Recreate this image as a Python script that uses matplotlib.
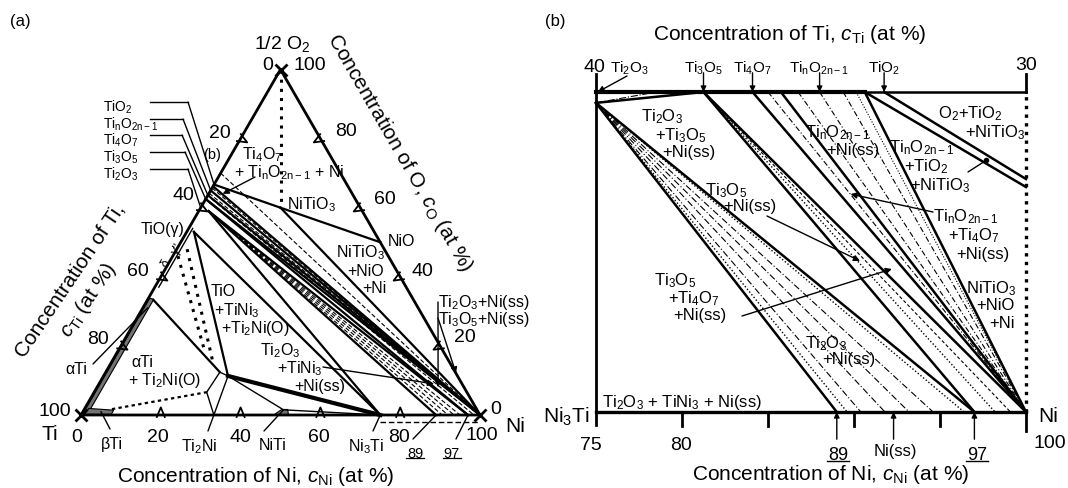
# -*- coding: utf-8 -*-
# Ti-Ni-O isothermal section (a) and the Ni-rich corner (b)

import numpy as np
import matplotlib.pyplot as plt
import matplotlib.transforms as mtransforms
from matplotlib.lines import Line2D

plt.rcParams['font.family'] = ['Liberation Sans', 'DejaVu Sans']
plt.rcParams['mathtext.fontset'] = 'custom'
plt.rcParams['mathtext.rm'] = 'Liberation Sans'
plt.rcParams['mathtext.it'] = 'Liberation Sans:italic'
plt.rcParams['mathtext.default'] = 'regular'

W, H = 1068, 489
S3 = np.sqrt(3) / 2

# ---------------- data (a): compositions as (c_Ni, c_O), at %
TI = (0, 0)
NI = (100, 0)
OX = (0, 100)
TI2O3 = (0, 60)
TI2O3P = (2.5, 59)
TI3O5 = (0, 62.5)
TI4O7 = (0, 63.6)
TINO = (0, 65)
TIO2E = (0, 66.2)
TIO2 = (0, 66.7)
B30 = (0, 70)
TIO = (1.8, 53)
NITIO3 = (20, 60)
NIO = (50, 50)
TI2NI = (33.3, 0)
NI3TI = (75, 0)
NI89 = (89, 0)
NI97 = (97, 0)
T2N_A = (28.2, 6.6)
T2N_B = (28.6, 12.4)
T2N_C = (31.2, 11.3)
NITI_TOP = (50, 1.5)
ALPHA_TOP = (1.5, 33.3)
BETA_END = (6.9, 1.7)

ALPHA_TI = [(0.3, 0.8), (0.3, 33.8), (1.5, 33.5), (1.5, 1.2)]
BETA_TI = [(0.8, 0.2), (7.5, 0.2), (7.5, 1.4), (1.0, 1.9)]
NITI = [(48.3, 0), (52, 0), (51, 1.6), (49.5, 1.6)]

SOLID_A = [(TI2O3P, NI3TI), (TI2O3P, NI89), (TI2O3P, NI97), (TI3O5, NI97),
           (TI3O5, NI), (TI4O7, NI), (TINO, NI), (TIO2E, NI),
           (TIO2, NITIO3), (NITIO3, NI), (NITIO3, NIO),
           (TIO, NI3TI), (TIO, T2N_C), (T2N_C, NI3TI), (ALPHA_TOP, T2N_B)]
THIN_A = [(TI2NI, T2N_A), (T2N_A, T2N_B), (T2N_B, T2N_C), (T2N_C, TI2NI),
          (T2N_C, NITI_TOP), (NITI_TOP, NI3TI), ((1.0, 54), (1.0, 37))]
DASH_A = [(TI2O3P, (90.5, 0)), (TI2O3P, (92, 0)), (TI2O3P, (93.5, 0)), (TI2O3P, (95, 0)),
          ((0, 64.2), NI), ((0, 65.7), NI), (B30, NI), ((1.5, 62.5), (98.5, 0))]
DOT_A = [(OX, NITIO3), ((2.6, 48), (25.4, 15.3)), ((1.3, 46), (21, 19.5))]
DOTTHIN_A = [(BETA_END, T2N_A)]
TICKS = [20, 40, 60, 80]

# ---------------- data (b): x = c_Ni on the lower edge, top edge is c_Ti 40..30
P_B = (75, 0.966)
TOP_TI = {'Ti3O5': 37.5, 'Ti4O7': 36.36, 'Ti5O9': 35.7, 'TinO': 34.8, 'TiO2E': 33.75, 'TiO2': 33.3}
R1, R2 = 0.703, 0.728
NI_BOTTOM = [89, 92.3, 97]
DASHDOT_P = [90.4, 91.8, 93.2, 94.6]
DOT_P = [89.6, 96.4]
DASHDOT_TOP = [36.0, 35.3, 34.8, 34.25]


def top(cti):
    return (75 + (40 - cti) * 2.5, 1.0)


def tern(c):
    ni, o = c
    return ni + o / 2, o * S3


fig = plt.figure(figsize=(W / 100, H / 100), dpi=100)
fig.patch.set_facecolor('white')
PX = mtransforms.Affine2D().scale(1 / W, -1 / H).translate(0, 1) + fig.transFigure


def ftext(x, y, s, size=12, ha='center', va='center_baseline', **kw):
    fig.text(x, y, s, transform=PX, fontsize=size, ha=ha, va=va, **kw)


def fline(xs, ys, **kw):
    fig.add_artist(Line2D(xs, ys, transform=PX, color='k', **kw))


def seg(ax, a, b, **kw):
    (x1, y1), (x2, y2) = tern(a), tern(b)
    ax.plot([x1, x2], [y1, y2], color='k', clip_on=False, **kw)


def arrow(ax, xy, xytext, head=True, lw=1.0):
    ax.annotate('', xy=xy, xycoords='data', xytext=xytext, textcoords=PX,
                arrowprops=dict(arrowstyle='-|>' if head else '-', lw=lw, color='k',
                                mutation_scale=9, shrinkA=0, shrinkB=0))


def chevron(ax, c, e, n, half=1.0, h=1.9, below=0.5):
    p, e, n = np.array(tern(c)), np.array(e), np.array(n)
    pts = np.array([p - half * e - below * n, p + h * n, p + half * e - below * n])
    ax.plot(pts[:, 0], pts[:, 1], color='k', lw=1.3, clip_on=False)


#########################################
# (a) ternary
ax = fig.add_axes([81 / W, (H - 416) / H, 399 / W, 345.5 / H])
ax.set_xlim(0, 100)
ax.set_ylim(0, 100 * S3)
ax.axis('off')

for poly in (ALPHA_TI, BETA_TI, NITI):
    xy = np.array([tern(c) for c in poly])
    ax.fill(xy[:, 0], xy[:, 1], fc='0.45', ec='k', lw=0.8, clip_on=False)

for a, b in SOLID_A:
    seg(ax, a, b, lw=1.6)
seg(ax, T2N_C, NI3TI, lw=3.0)
for a, b in THIN_A:
    seg(ax, a, b, lw=1.0)
for a, b in DASH_A:
    seg(ax, a, b, lw=0.8, ls=(0, (4, 2)))
for a, b in DOT_A:
    seg(ax, a, b, lw=2.2, ls=(0, (1, 2)))
for a, b in DOTTHIN_A:
    seg(ax, a, b, lw=1.6, ls=(0, (1.5, 1.5)))

tri = np.array([tern(c) for c in (TI, NI, OX, TI)])
ax.plot(tri[:, 0], tri[:, 1], color='k', lw=2, clip_on=False)
for c in (TI, NI, OX):
    ax.plot(*tern(c), marker='x', ms=9, mew=2, color='k', clip_on=False)

for v in TICKS:
    chevron(ax, (v, 0), (1, 0), (0, 1))
    chevron(ax, (0, 100 - v), (0.5, S3), (S3, -0.5))
    chevron(ax, (100 - v, v), (-0.5, S3), (-S3, -0.5))

# dashed outline of the region shown in (b), just under the Ni-Ti edge
off = ax.transData + mtransforms.ScaledTranslation(0, -0.07, fig.dpi_scale_trans)
ax.plot([tern(NI3TI)[0], tern(NI)[0]], [0, 0], transform=off, color='k', lw=1, ls=(0, (4, 2)), clip_on=False)

# numbers
for x, y, s in [(77, 437, '0'), (158, 437, '20'), (240, 437, '40'), (319, 437, '60'), (399, 437, '80'),
                (482, 435, '100'), (220, 133, '20'), (183, 196, '40'), (138, 272, '60'), (98, 340, '80'),
                (55, 412, '100'), (346, 131, '80'), (385, 200, '60'), (422, 272, '40'), (465, 337, '20'),
                (268, 65, '0'), (310, 65, '100'), (496, 410, '0')]:
    ftext(x, y, s, 14, va='center')
ftext(282, 42, r'1/2 O$_2$', 14)
ftext(50, 432, 'Ti', 15)
ftext(515, 424, 'Ni', 15)
ftext(20, 20, '(a)', 12)
ftext(256, 476, r'Concentration of Ni, $\mathit{c}_{Ni}$ (at %)', 15, va='center')
ftext(70, 280, 'Concentration of Ti,', 15, rotation=56, va='center')
ftext(88, 300, r'$\mathit{c}_{Ti}$ (at %)', 15, rotation=56, va='center')
ftext(400, 153, r'Concentration of O, $\mathit{c}_{O}$ (at %)', 15, rotation=-60, va='center')

TINO_S = r'Ti$_n$O$_{2n-1}$'
for x, y, s in [(262, 152, r'Ti$_4$O$_7$'), (289, 170, r'+ Ti$_n$O$_{2n-1}$ + Ni'),
                (311, 202, r'NiTiO$_3$'), (401, 240, 'NiO'),
                (360, 250, r'NiTiO$_3$'), (366, 270, '+NiO'), (374, 287, '+Ni'),
                (484, 300, r'Ti$_2$O$_3$+Ni(ss)'), (484, 317, r'Ti$_3$O$_5$+Ni(ss)'),
                (223, 290, 'TiO'), (237, 308, r'+TiNi$_3$'), (255, 326, r'+Ti$_2$Ni(O)'),
                (280, 348, r'Ti$_2$O$_3$'), (300, 366, r'+TiNi$_3$'), (320, 385, '+Ni(ss)'),
                (142, 361, 'αTi'), (165, 378, r'+ Ti$_2$Ni(O)'),
                (76, 368, 'αTi'), (112, 443, 'βTi'), (199, 444, r'Ti$_2$Ni'), (273, 444, 'NiTi'),
                (366, 444, r'Ni$_3$Ti'), (163, 228, 'TiO(γ)')]:
    ftext(x, y, s, 11.5)
ftext(178, 246, "γ''", 9, rotation=60)
ftext(166, 262, 'δ', 9, rotation=60)
ftext(212, 153, '(b)', 10.5)
for x, s in ((415, '89'), (452, '97')):
    ftext(x, 452, s, 10.5)
    fline([x - 9, x + 9], [459, 459], lw=0.9)

# leader lines of the oxide labels
for c, y, x1, s in [(TIO2, 105, 188, r'TiO$_2$'), (TINO, 122, 183, TINO_S), (TI4O7, 138, 182, r'Ti$_4$O$_7$'),
                    (TI3O5, 155, 185, r'Ti$_3$O$_5$'), (TI2O3, 172, 188, r'Ti$_2$O$_3$')]:
    ftext(103, y, s, 10, ha='left')
    fline([150, x1], [y - 2, y - 2], lw=1)
    arrow(ax, tern(c), (x1, y - 2), head=False)

arrow(ax, tern((3.5, 64)), (255, 178))
arrow(ax, tern((85.5, 8)), (438, 303))
arrow(ax, tern((88, 12)), (438, 319))
arrow(ax, tern((84, 9)), (323, 368))
arrow(ax, tern((1.2, 31)), (93, 365), head=False)
arrow(ax, tern((4.5, 1.0)), (110, 430), head=False)
arrow(ax, tern(TI2NI), (208, 432), head=False)
arrow(ax, tern(NITI_TOP), (264, 432), head=False)
arrow(ax, tern(NI3TI), (373, 432), head=False)
arrow(ax, tern(NI89), (413, 440), head=False)
arrow(ax, tern(NI97), (456, 440), head=False)

#########################################
# (b) Ni-rich corner
bx = fig.add_axes([596 / W, (H - 413) / H, 430 / W, 320 / H])
bx.set_xlim(75, 100)
bx.set_ylim(0, 1)
bx.axis('off')


def bl(a, b, **kw):
    bx.plot([a[0], b[0]], [a[1], b[1]], color='k', clip_on=False, **kw)


xe = top(TOP_TI['TiO2E'])
bl((75, -0.04), (75, 1.056), lw=2)
bl((75, 0), (100, 0), lw=2.4)
bl((75, 1), xe, lw=3)
bl(xe, (100, 1), lw=1.8)
bl((100, 1), (100, 1.056), lw=2)
bl((100, 0), (100, -0.06), lw=2)
bl((100, 0), (100, 1), lw=2.4, ls=(0, (1, 1.6)))
for t in (80, 85, 90, 95):
    bl((t, 0), (t, -0.045), lw=2)

for a, b in [(P_B, top(TOP_TI['Ti3O5'])), (P_B, (89, 0)), (P_B, (97, 0)),
             (top(TOP_TI['Ti3O5']), (97, 0)), (top(TOP_TI['Ti3O5']), (100, 0)),
             (top(TOP_TI['Ti4O7']), (100, 0)), (top(TOP_TI['Ti5O9']), (100, 0)),
             (top(TOP_TI['TiO2E']), (100, 0)), (top(TOP_TI['TiO2E']), (100, R1)),
             (top(TOP_TI['TiO2']), (100, R2))]:
    bl(a, b, lw=1.8)

bl(P_B, top(38.6), lw=0.8, ls='-.')
for n in DASHDOT_P:
    bl(P_B, (n, 0), lw=0.8, ls=(0, (6, 2, 1, 2)))
for n in DOT_P:
    bl(P_B, (n, 0), lw=1.0, ls=(0, (1, 1.5)))
bl(top(TOP_TI['Ti3O5']), (98.2, 0), lw=1.0, ls=(0, (1, 1.5)))
bl(top(TOP_TI['Ti3O5']), (99.1, 0), lw=0.8, ls=(0, (3, 2)))
for t in DASHDOT_TOP:
    bl(top(t), (100, 0), lw=0.8, ls=(0, (5, 2, 1, 2)))
bl(top(33.95), (100, 0), lw=0.8, ls=(0, (1, 1.5)))

# top arrows and labels
for key, s in (('Ti3O5', r'Ti$_3$O$_5$'), ('Ti4O7', r'Ti$_4$O$_7$'), ('TinO', TINO_S), ('TiO2', r'TiO$_2$')):
    x = top(TOP_TI[key])[0]
    bx.annotate('', xy=(x, 1), xytext=(x, 1.06),
                arrowprops=dict(arrowstyle='-|>', lw=1, color='k', mutation_scale=8, shrinkA=0, shrinkB=0))
    px = 596 + (x - 75) / 25 * 430
    ftext(px, 66, s, 11)
ftext(629, 66, r'Ti$_2$O$_3$', 11)
arrow(bx, (75.1, 1.0), (627, 77))
ftext(594, 66, '40', 14)
ftext(1026, 64, '30', 14)

for n in NI_BOTTOM:
    bx.annotate('', xy=(n, 0), xytext=(n, -0.085),
                arrowprops=dict(arrowstyle='-|>', lw=1, color='k', mutation_scale=8, shrinkA=0, shrinkB=0))
ftext(838, 454, '89', 13)
fline([827, 849], [462, 462], lw=1)
ftext(977, 454, '97', 13)
fline([966, 988], [462, 462], lw=1)
ftext(895, 450, 'Ni(ss)', 12)
ftext(591, 444, '75', 14)
ftext(681, 444, '80', 14)
ftext(1050, 441, '100', 14)
ftext(1048, 415, 'Ni', 15)
ftext(566, 414, r'Ni$_3$Ti', 15)
ftext(555, 20, '(b)', 12)
ftext(790, 34, r'Concentration of Ti, $\mathit{c}_{Ti}$ (at %)', 15, va='center')
ftext(831, 475, r'Concentration of Ni, $\mathit{c}_{Ni}$ (at %)', 15, va='center')

for x, y, s in [(970, 111, r'O$_2$+TiO$_2$'), (995, 130, r'+NiTiO$_3$'),
                (838, 130, TINO_S), (853, 149, '+Ni(ss)'),
                (922, 145, TINO_S), (926, 164, r'+TiO$_2$'), (940, 183, r'+NiTiO$_3$'),
                (966, 214, TINO_S), (974, 233, r'+Ti$_4$O$_7$'), (983, 253, '+Ni(ss)'),
                (991, 286, r'NiTiO$_3$'), (995, 304, '+NiO'), (1002, 322, '+Ni'),
                (826, 341, r'Ti$_2$O$_3$'), (849, 358, '+Ni(ss)'),
                (662, 114, r'Ti$_2$O$_3$'), (681, 133, r'+Ti$_3$O$_5$'), (689, 151, '+Ni(ss)'),
                (726, 188, r'Ti$_3$O$_5$'), (750, 205, '+Ni(ss)'),
                (675, 278, r'Ti$_3$O$_5$'), (694, 296, r'+Ti$_4$O$_7$'), (700, 314, '+Ni(ss)'),
                (682, 400, r'Ti$_2$O$_3$ + TiNi$_3$ + Ni(ss)')]:
    ftext(x, y, s, 12)

arrow(bx, (90.35, 0.472), (767, 217))
arrow(bx, (92.2, 0.447), (742, 317))
arrow(bx, (89.8, 0.681), (933, 213))
arrow(bx, (97.7, 0.787), (968, 173), head=False)
bx.plot(97.7, 0.787, 'ko', ms=3, clip_on=False)

fig.savefig('out.png', dpi=100)
